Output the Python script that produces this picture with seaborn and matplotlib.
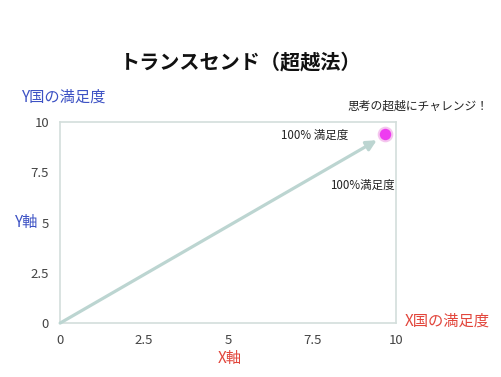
import matplotlib
matplotlib.use("Agg")
import matplotlib.pyplot as plt
import seaborn as sns
import pandas as pd

# -------------------------------------------------
# Chart data
# -------------------------------------------------

goal_x = [9.67]
goal_y = [9.4]

arrow_start = (0.0, 0.0)
arrow_end = (9.42, 9.1)

ticks = [0, 2.5, 5, 7.5, 10]
tick_labels = ["0", "2.5", "5", "7.5", "10"]

title = "トランスセンド（超越法）"
y_country = "Y国の満足度"
x_country = "X国の満足度"
y_axis = "Y軸"
x_axis = "X軸"
challenge = "思考の超越にチャレンジ！"
label_top = "100% 満足度"
label_bottom = "100%満足度"

# -------------------------------------------------
# Style
# -------------------------------------------------

sns.set_style("white")
plt.rcParams['font.family'] = ['Noto Sans CJK JP', 'DejaVu Sans']

BLUE = "#3d52c4"
RED = "#e2463c"
GREY = "#444444"
ARROW = "#bcd5d1"
SPINE = "#d3dedb"

fig = plt.figure(figsize=(5.01, 3.77), dpi=100)
ax = fig.add_axes([0.12, 0.143, 0.671, 0.533])

df = pd.DataFrame({"x": goal_x, "y": goal_y})

ax.annotate(
    "", xy=arrow_end, xytext=arrow_start,
    arrowprops=dict(arrowstyle="-|>,head_length=0.6,head_width=0.3",
                    color=ARROW, lw=2.3, shrinkA=0, shrinkB=0),
)

sns.scatterplot(data=df, x="x", y="y", s=95, color="#ee3cf0",
                edgecolor="#f4c6ee", linewidth=1.5, ax=ax, zorder=5)

ax.set_xlim(0, 10)
ax.set_ylim(0, 10)
ax.set_xticks(ticks)
ax.set_xticklabels(tick_labels)
ax.set_yticks(ticks)
ax.set_yticklabels(tick_labels)
ax.set_xlabel("")
ax.set_ylabel("")

ax.tick_params(axis="both", length=0, pad=8, labelsize=9.5, labelcolor=GREY)

for spine in ax.spines.values():
    spine.set_visible(True)
    spine.set_color(SPINE)
    spine.set_linewidth(1.2)

# -------------------------------------------------
# Text
# -------------------------------------------------

fig.text(0.48, 0.835, title, ha="center", va="center",
         fontsize=14.5, fontweight="bold", color="#111111")
fig.text(0.044, 0.742, y_country, ha="left", va="center",
         fontsize=11, color=BLUE)
fig.text(0.834, 0.718, challenge, ha="center", va="center",
         fontsize=8.5, color="#222222")
fig.text(0.03, 0.41, y_axis, ha="left", va="center",
         fontsize=11, color=BLUE)
fig.text(0.808, 0.148, x_country, ha="left", va="center",
         fontsize=11, color=RED)
fig.text(0.458, 0.048, x_axis, ha="center", va="center",
         fontsize=11, color=RED)

ax.text(0.757, 0.936, label_top, transform=ax.transAxes,
        ha="center", va="center", fontsize=8.3, color="#222222")
ax.text(0.9, 0.687, label_bottom, transform=ax.transAxes,
        ha="center", va="center", fontsize=8.3, color="#222222")

fig.savefig("out.png", dpi=100)
